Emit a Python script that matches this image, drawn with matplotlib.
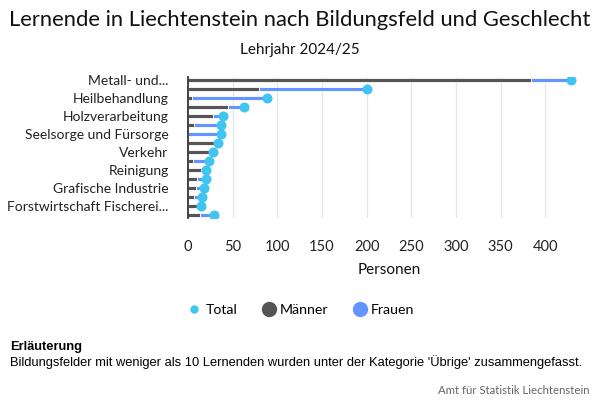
import matplotlib
matplotlib.use("Agg")
import matplotlib.pyplot as plt
from matplotlib.lines import Line2D

# Bildungsfelder (nur jede zweite Beschriftung ist im Original sichtbar)
felder = ["Metall- und...", "Wirtschaft und Verwaltung", "Heilbehandlung", "Handel",
          "Holzverarbeitung", "Gastgewerbe", "Seelsorge und Fürsorge", "Elektrizität",
          "Verkehr", "Körperpflege", "Reinigung", "Lebensmittel",
          "Grafische Industrie", "Bau", "Forstwirtschaft Fischerei...", "Übrige"]
maenner = [384, 79, 5, 45, 28, 7, 0, 30, 24, 6, 14, 10, 9, 7, 10, 13]
frauen = [45, 121, 83, 18, 11, 30, 37, 4, 4, 17, 6, 10, 9, 9, 4, 16]
total = [m + f for m, f in zip(maenner, frauen)]

x_ticks = [0, 50, 100, 150, 200, 250, 300, 350, 400, 450]
x_labels = ["0", "50", "100", "150", "200", "250", "300", "350", "400", ""]

c_m = "#555555"
c_f = "#6394ff"
c_t = "#40c4f0"

plt.rcParams['font.family'] = ['Lato', 'DejaVu Sans']

fig = plt.figure(figsize=(6, 4), dpi=100)
ax = fig.add_axes([188 / 600, 1 - 218 / 400, 402 / 600, 141 / 400])

y = list(range(len(felder)))
ax.barh(y, maenner, height=0.45, color=c_m, edgecolor="white", linewidth=0.6, zorder=3)
ax.barh(y, frauen, left=maenner, height=0.45, color=c_f, edgecolor="white", linewidth=0.6, zorder=3)
ax.scatter(total, y, s=52, color=c_t, zorder=4, linewidths=0)

ax.set_xlim(0, 450)
ax.set_ylim(len(felder) - 1 + 0.35, -0.35)
ax.set_xticks(x_ticks)
ax.set_xticklabels(x_labels, fontsize=10.5, color="#222222")
ax.set_yticks(y)
ax.set_yticklabels([f if i % 2 == 0 else "" for i, f in enumerate(felder)],
                   fontsize=10, color="#222222")
ax.tick_params(axis="both", length=0)
ax.tick_params(axis="x", pad=16)
ax.tick_params(axis="y", pad=14)
ax.grid(axis="x", color="#e6e6e6", linewidth=0.9, zorder=0)
for s in ["top", "right", "bottom"]:
    ax.spines[s].set_visible(False)
ax.spines["left"].set_color("#333333")
ax.spines["left"].set_linewidth(1.3)
ax.spines["left"].set_zorder(5)

fig.text(0.5, 1 - 20 / 400, "Lernende in Liechtenstein nach Bildungsfeld und Geschlecht",
         ha="center", va="center", fontsize=15.8, color="#111111")
fig.text(0.5, 1 - 50 / 400, "Lehrjahr 2024/25", ha="center", va="center",
         fontsize=11, color="#111111")
fig.text(389 / 600, 1 - 270 / 400, "Personen", ha="center", va="center",
         fontsize=11, color="#111111")

handles = [
    Line2D([], [], marker="o", linestyle="", markersize=5, color=c_t),
    Line2D([], [], marker="o", linestyle="", markersize=10, color=c_m),
    Line2D([], [], marker="o", linestyle="", markersize=10, color=c_f),
]
fig.legend(handles, ["Total", "Männer", "Frauen"], loc="center",
           bbox_to_anchor=(0.5, 1 - 310 / 400), ncol=3, frameon=False,
           fontsize=10.2, handletextpad=0.2, columnspacing=1.6, handlelength=1.2)

fig.text(10 / 600, 1 - 347 / 400, "Erläuterung", ha="left", va="center",
         fontsize=9.3, fontweight="bold", family="Liberation Sans", color="#000000")
fig.text(10 / 600, 1 - 362 / 400,
         "Bildungsfelder mit weniger als 10 Lernenden wurden unter der Kategorie 'Übrige' zusammengefasst.",
         ha="left", va="center", fontsize=9.3, family="Liberation Sans", color="#000000")
fig.text(590 / 600, 1 - 391 / 400, "Amt für Statistik Liechtenstein", ha="right", va="center",
         fontsize=8.2, color="#666666")

fig.savefig("out.png", dpi=100)
